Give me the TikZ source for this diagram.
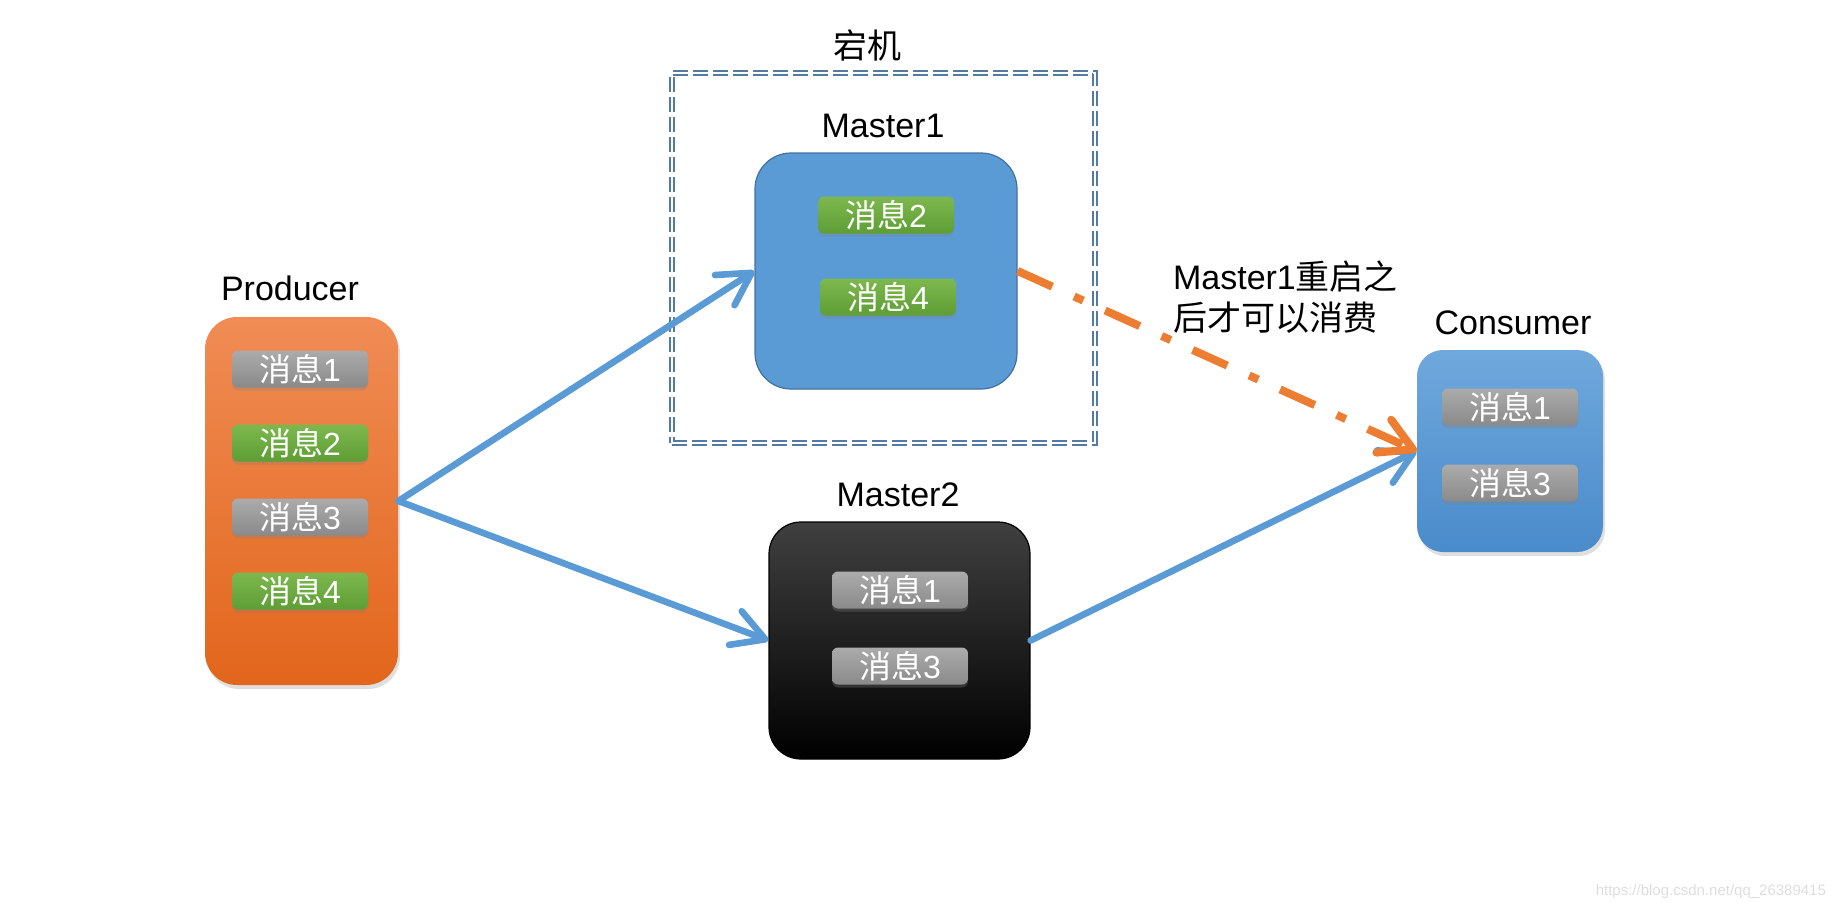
\documentclass[tikz,border=0pt]{standalone}
\usepackage{fontspec}
\setmainfont{Liberation Sans}
\newfontfamily\cjk{Noto Sans CJK SC}
\usetikzlibrary{arrows.meta,shadows}
\definecolor{arrowblue}{HTML}{5B9BD5}
\definecolor{arroworange}{HTML}{ED7D31}
\definecolor{prodtop}{HTML}{F08C55}
\definecolor{prodbot}{HTML}{E2661C}
\definecolor{masterblue}{HTML}{5B9BD5}
\definecolor{masterline}{HTML}{41719C}
\definecolor{constop}{HTML}{6FA8DC}
\definecolor{consbot}{HTML}{4A8BCB}
\definecolor{chiptop}{HTML}{ABABAB}
\definecolor{chipbot}{HTML}{8A8A8A}
\definecolor{oktop}{HTML}{7DB84E}
\definecolor{okbot}{HTML}{5E9E35}
\definecolor{hostline}{HTML}{5479A3}
\newcommand{\xiaoxi}[1]{{\cjk 消息}#1}

\begin{document}
\begin{tikzpicture}[x=0.5pt,y=-0.5pt,
  >={Straight Barb[round,length=16pt,width=18pt]},
  lbl/.style={font=\fontsize{17pt}{20.5pt}\selectfont},
  msg/.style={rounded corners=3pt,minimum width=68pt,minimum height=18.5pt,inner sep=0pt,
    text=white,font=\fontsize{16pt}{18pt}\selectfont,
    drop shadow={opacity=0.3,shadow xshift=0pt,shadow yshift=-1.5pt}},
  greymsg/.style={msg,top color=chiptop,bottom color=chipbot},
  greenmsg/.style={msg,top color=oktop,bottom color=okbot},
  bigbox/.style={inner sep=0pt,drop shadow={opacity=0.25,shadow xshift=1pt,shadow yshift=-2pt}},
  blueline/.style={arrowblue,line width=3.3pt,line cap=round},
  orangeline/.style={arroworange,line width=4pt,dash pattern=on 19pt off 12pt on 5pt off 12pt}]
\useasboundingbox (0,0) rectangle (1844,910);

\node[lbl] (hostlbl) at (867,45) {{\cjk 宕机}};
\node[draw=hostline,line width=0.7pt,double,double distance=1.4pt,dash pattern=on 7.5pt off 2.5pt,
  minimum width=211.5pt,minimum height=185pt] (host) at (883.5,258) {};

\node[lbl] (prodlbl) at (290,288) {Producer};
\node[bigbox,rounded corners=16pt,top color=prodtop,bottom color=prodbot,
  minimum width=96.5pt,minimum height=184pt] (prod) at (301.5,501) {};
\node[greymsg] (p1) at (300,369) {\xiaoxi{1}};
\node[greenmsg] (p2) at (300,443) {\xiaoxi{2}};
\node[greymsg] (p3) at (300,517) {\xiaoxi{3}};
\node[greenmsg] (p4) at (300,591) {\xiaoxi{4}};

\node[lbl] (m1lbl) at (883,126) {Master1};
\node[rounded corners=18pt,fill=masterblue,draw=masterline,line width=0.6pt,inner sep=0pt,
  minimum width=131pt,minimum height=118pt] (m1) at (886,271) {};
\node[greenmsg] (m1a) at (886,215) {\xiaoxi{2}};
\node[greenmsg] (m1b) at (888,297) {\xiaoxi{4}};

\node[lbl] (m2lbl) at (898,495) {Master2};
\node[rounded corners=16pt,top color=black!75,middle color=black,bottom color=black,
  draw=black,line width=0.6pt,inner sep=0pt,
  minimum width=130.5pt,minimum height=118.5pt] (m2) at (899.5,640.5) {};
\node[greymsg] (m2a) at (900,590) {\xiaoxi{1}};
\node[greymsg] (m2b) at (900,666) {\xiaoxi{3}};

\node[lbl] (conslbl) at (1513,323) {Consumer};
\node[bigbox,rounded corners=13pt,top color=constop,bottom color=consbot,
  minimum width=93pt,minimum height=101pt] (cons) at (1510,451) {};
\node[greymsg] (c1) at (1510,407) {\xiaoxi{1}};
\node[greymsg] (c3) at (1510,483) {\xiaoxi{3}};

\node[lbl,anchor=west,align=left] (note) at (1166,297) {Master1{\cjk 重启之}\\{\cjk 后才可以消费}};

\draw[blueline,->] (prod.east) -- (m1.west);
\draw[blueline,->] (prod.east) -- (m2.west);
\draw[blueline,->] (m2.east) -- (cons.west);
\draw[orangeline,->] (m1.east) -- (cons.west);

\node[anchor=east,text=black!13,font=\fontsize{7.5pt}{9pt}\selectfont] (mark) at (1833,892) {https://blog.csdn.net/qq\_26389415};
\end{tikzpicture}
\end{document}
